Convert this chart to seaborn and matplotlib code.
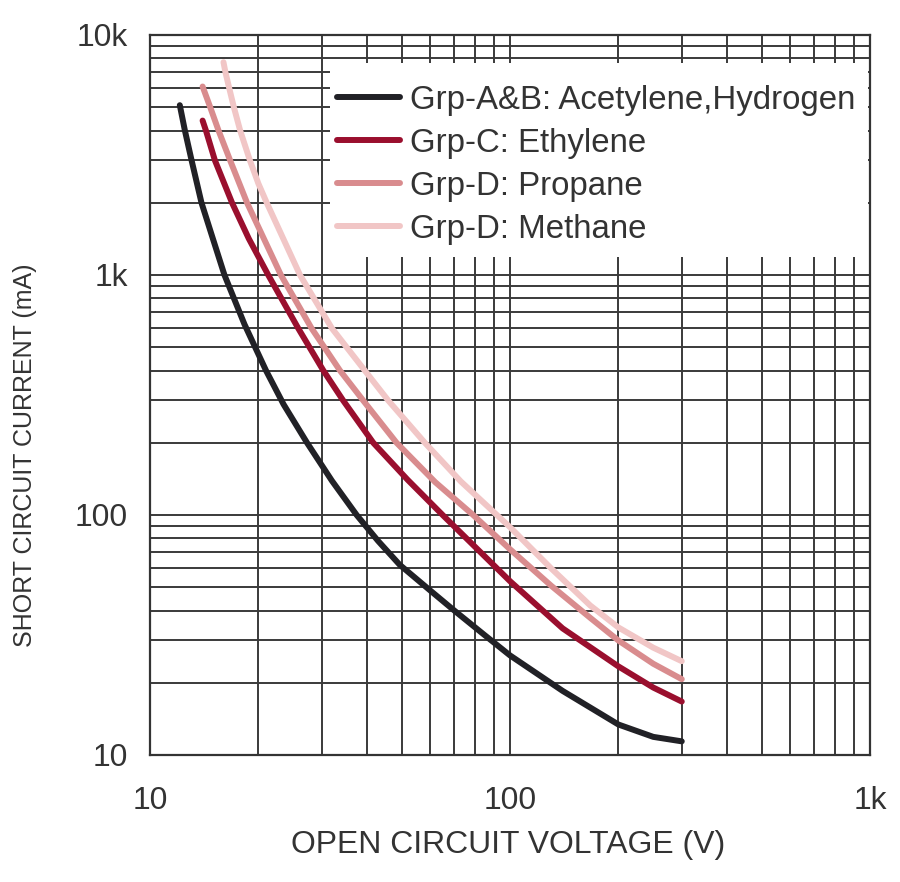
import matplotlib
matplotlib.use('Agg')
import matplotlib.pyplot as plt
import matplotlib.ticker as mticker
from matplotlib import font_manager
from matplotlib.patches import Rectangle
import seaborn as sns
import pandas as pd

# Data (open circuit voltage in V, short circuit current in mA)
labels = ['Grp-A&B: Acetylene,Hydrogen', 'Grp-C: Ethylene', 'Grp-D: Propane', 'Grp-D: Methane']
colors = ['#212126', '#9a0f2e', '#d98c8e', '#f1c6c6']

v_ab = [12.1, 12.5, 13.05, 13.9, 14.9, 16.1, 18.3, 21, 23.5, 27.3, 32, 37.5, 43, 49.4, 60, 70, 85, 100, 140, 200, 250, 300]
i_ab = [5100, 4000, 3000, 2000, 1440, 1000, 623, 400, 289, 200, 139, 100, 78, 62, 48.5, 40, 31.6, 26, 18.5, 13.4, 11.9, 11.4]

v_c = [14.0, 14.3, 15.15, 16.9, 18.8, 21.3, 25.8, 30.3, 34.4, 41.7, 52, 65, 100, 140, 200, 250, 300]
i_c = [4400, 4000, 3000, 2000, 1420, 1000, 600, 400, 300, 200, 140, 100, 53, 33.7, 23.4, 19.1, 16.7]

v_prop = [14.0, 14.7, 15.5, 16.7, 18.6, 23.1, 28.1, 33.7, 39.1, 48.4, 62, 79, 100, 130, 167, 200, 250, 300]
i_prop = [6100, 5000, 4000, 3000, 2000, 1000, 600, 400, 300, 200, 137, 100, 72, 50.8, 37.3, 30, 24, 20.7]

v_meth = [16.0, 16.2, 16.6, 17.1, 17.8, 18.95, 20, 21.1, 26.1, 32, 39.5, 45.9, 58, 73, 100, 130, 167, 200, 250, 300]
i_meth = [7700, 7000, 6000, 5000, 4000, 3000, 2405, 2000, 1000, 600, 400, 300, 200, 138, 89, 60, 42, 34, 28, 24.6]

x_ticks = [10, 100, 1000]
x_ticklabels = ['10', '100', '1k']
y_ticks = [10, 100, 1000, 10000]
y_ticklabels = ['10', '100', '1k', '10k']

frames = []
for lab, v, i in zip(labels, [v_ab, v_c, v_prop, v_meth], [i_ab, i_c, i_prop, i_meth]):
    frames.append(pd.DataFrame({'voltage': v, 'current': i, 'group': lab}))
df = pd.concat(frames, ignore_index=True)

# Pick a narrow font if we have one
names = {f.name for f in font_manager.fontManager.ttflist}
if 'Liberation Sans Narrow' in names:
    font, k = 'Liberation Sans Narrow', 1.0
else:
    font, k = 'Liberation Sans', 0.82

sns.set_style('white')
plt.rcParams['font.family'] = [font, 'DejaVu Sans']

fig = plt.figure(figsize=(9, 8.82), dpi=100)
ax = fig.add_axes([150 / 900, 1 - 755 / 882, 720 / 900, 720 / 882])

sns.lineplot(data=df, x='voltage', y='current', hue='group', hue_order=labels,
             palette=dict(zip(labels, colors)), linewidth=4.3, estimator=None,
             ax=ax, zorder=3, legend=True)

ax.set_xscale('log')
ax.set_yscale('log')
ax.set_xlim(10, 1000)
ax.set_ylim(10, 10000)

ax.xaxis.set_major_locator(mticker.FixedLocator(x_ticks))
ax.xaxis.set_major_formatter(mticker.FixedFormatter(x_ticklabels))
ax.yaxis.set_major_locator(mticker.FixedLocator(y_ticks))
ax.yaxis.set_major_formatter(mticker.FixedFormatter(y_ticklabels))
for axis in (ax.xaxis, ax.yaxis):
    axis.set_minor_locator(mticker.LogLocator(base=10, subs=range(2, 10)))
    axis.set_minor_formatter(mticker.NullFormatter())

ax.set_axisbelow(True)
ax.grid(which='both', color='#3a3a3a', linewidth=1.4)
ax.tick_params(which='both', length=0)
ax.tick_params(axis='x', pad=22, labelsize=28 * k, labelcolor='#333333')
ax.tick_params(axis='y', pad=16, labelsize=28 * k, labelcolor='#333333')
for s in ax.spines.values():
    s.set_color('#333333')
    s.set_linewidth(1.6)

ax.set_xlabel('')
ax.set_ylabel('')
fig.text(508 / 900, 1 - 845 / 882, 'OPEN CIRCUIT VOLTAGE (V)', ha='center', va='center',
         fontsize=28 * k, color='#333333')
fig.text(25 / 900, 1 - 455 / 882, 'SHORT CIRCUIT CURRENT (mA)', ha='center', va='center',
         rotation=90, fontsize=22 * k, color='#333333')

# white box under the legend hides the grid there
ax.add_patch(Rectangle(((330 - 150) / 720, (755 - 257) / 720), (868 - 330) / 720, (257 - 63) / 720,
                       transform=ax.transAxes, facecolor='white', edgecolor='none', zorder=1))

handles, _ = ax.get_legend_handles_labels()
leg = ax.legend(handles, labels, loc='upper left', bbox_to_anchor=((337 - 150) / 720, (755 - 85) / 720),
                frameon=False, borderpad=0, borderaxespad=0, handlelength=1.9, handletextpad=0.3,
                labelspacing=0.36, fontsize=29 * k, labelcolor='#333333')
for line in leg.get_lines():
    line.set_linewidth(4.3)

fig.savefig('out.png', dpi=100)
